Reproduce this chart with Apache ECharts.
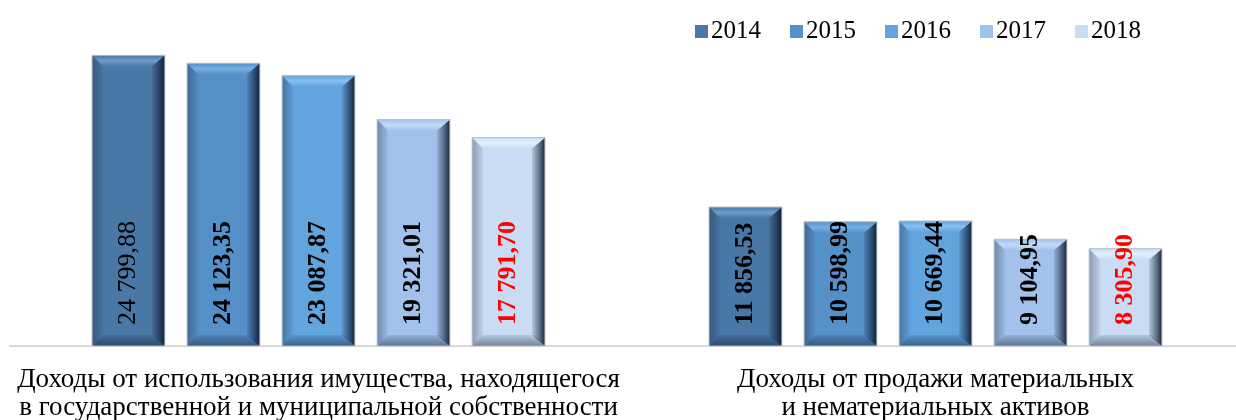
<!DOCTYPE html>
<html>
<head>
<meta charset="utf-8">
<script src="https://cdn.jsdelivr.net/npm/echarts@6/dist/echarts.min.js"></script>
<style>
html,body{margin:0;padding:0;background:#fff;}
#chart{width:1236px;height:420px;}
</style>
</head>
<body>
<div id="chart"></div>
<script>
const categories = [
  'Доходы от использования имущества, находящегося\nв государственной и муниципальной собственности',
  'Доходы от продажи материальных\nи нематериальных активов'
];
const years = ['2014', '2015', '2016', '2017', '2018'];
const v2014 = [24799.88, 11856.53];
const v2015 = [24123.35, 10598.99];
const v2016 = [23087.87, 10669.44];
const v2017 = [19321.01, 9104.95];
const v2018 = [17791.70, 8305.90];
const valueLabels = [
  ['24 799,88', '11 856,53'],
  ['24 123,35', '10 598,99'],
  ['23 087,87', '10 669,44'],
  ['19 321,01', '9 104,95'],
  ['17 791,70', '8 305,90']
];
const seriesValues = [v2014, v2015, v2016, v2017, v2018];

const colors = ['#4a78a6', '#5690c8', '#62a4de', '#a2c2ec', '#c9dcf4'];
const topColors = ['#6f9ccb', '#78afe3', '#86bff0', '#c4daf5', '#e4eefb'];
const labelColors = ['#000', '#000', '#000', '#000', '#ff0000'];

const chart = echarts.init(document.getElementById('chart'));

function makeRender(si) {
  return function (params, api) {
    const cat = api.value(0);
    const val = api.value(1);
    const band = api.size([1, 0])[0];
    const step = band * 0.154;
    const w = band * 0.118;
    const base = api.coord([cat, 0]);
    const top = api.coord([cat, val]);
    const cx = base[0] + (si - 2) * step;
    const x0 = cx - w / 2, x1 = cx + w / 2;
    const y0 = top[1], y1 = base[1];
    const b = 11;
    const c = colors[si];
    const lbl = valueLabels[si][params.dataIndex];
    const weight = (si === 0 && params.dataIndex === 0) ? 'normal' : 'bold';
    return {
      type: 'group',
      children: [
        { type: 'rect', shape: { x: x0, y: y0, width: w, height: y1 - y0 },
          style: { fill: c } },
        { type: 'polygon', shape: { points: [[x0, y0], [x0 + b, y0 + b], [x0 + b, y1 - b], [x0, y1]] },
          style: { fill: new echarts.graphic.LinearGradient(0, 0, 1, 0, [
            { offset: 0, color: 'rgba(20,30,50,0.35)' }, { offset: 1, color: 'rgba(20,30,50,0.05)' }]) } },
        { type: 'polygon', shape: { points: [[x1, y0], [x1, y1], [x1 - b - 2, y1 - b], [x1 - b - 2, y0 + b]] },
          style: { fill: new echarts.graphic.LinearGradient(0, 0, 1, 0, [
            { offset: 0, color: 'rgba(10,20,40,0.1)' }, { offset: 0.6, color: 'rgba(10,20,40,0.55)' }, { offset: 1, color: 'rgba(10,20,35,0.9)' }]) } },
        { type: 'polygon', shape: { points: [[x0, y1], [x1, y1], [x1 - b, y1 - b], [x0 + b, y1 - b]] },
          style: { fill: new echarts.graphic.LinearGradient(0, 0, 0, 1, [
            { offset: 0, color: 'rgba(10,20,40,0.1)' }, { offset: 1, color: 'rgba(10,20,40,0.45)' }]) } },
        { type: 'polygon', shape: { points: [[x0, y0], [x1, y0], [x1 - b - 2, y0 + b], [x0 + b, y0 + b]] },
          style: { fill: new echarts.graphic.LinearGradient(0, 0, 0, 1, [
            { offset: 0, color: c }, { offset: 0.5, color: topColors[si] }, { offset: 1, color: c }]) } },
        { type: 'rect', shape: { x: x0, y: y0, width: w, height: y1 - y0 },
          style: { fill: 'none', stroke: '#b8c0ca', lineWidth: 1 } },
        { type: 'text', x: cx, y: y1 - 21, rotation: Math.PI / 2, z2: 10,
          style: { text: lbl, fill: labelColors[si], fontFamily: 'Liberation Serif',
            fontSize: 26, fontWeight: weight, align: 'left', verticalAlign: 'middle' } }
      ]
    };
  };
}

const series = years.map((y, si) => ({
  name: y,
  type: 'custom',
  renderItem: makeRender(si),
  itemStyle: { color: colors[si] },
  encode: { x: 0, y: 1 },
  data: seriesValues[si].map((v, i) => [i, v])
}));

chart.setOption({
  animation: false,
  legend: {
    data: years,
    left: 690, top: 14,
    itemWidth: 13, itemHeight: 13, itemGap: 29,
    icon: 'rect',
    textStyle: { fontFamily: 'Liberation Serif', fontSize: 25, color: '#000', padding: [0, 0, 0, -2] }
  },
  grid: { left: 10, right: -8, top: 53, bottom: 74, containLabel: false, outerBoundsMode: 'none' },
  xAxis: {
    type: 'category',
    data: categories,
    axisLine: { lineStyle: { color: '#d9d9d9', width: 2 } },
    axisTick: { length: 6, lineStyle: { color: '#d9d9d9', width: 2 } },
    axisLabel: { fontFamily: 'Liberation Serif', fontSize: 27, lineHeight: 28, color: '#000', margin: 20, interval: 0 }
  },
  yAxis: { type: 'value', min: 0, max: 25000, show: false, splitLine: { show: false } },
  series: series
});
</script>
</body>
</html>
